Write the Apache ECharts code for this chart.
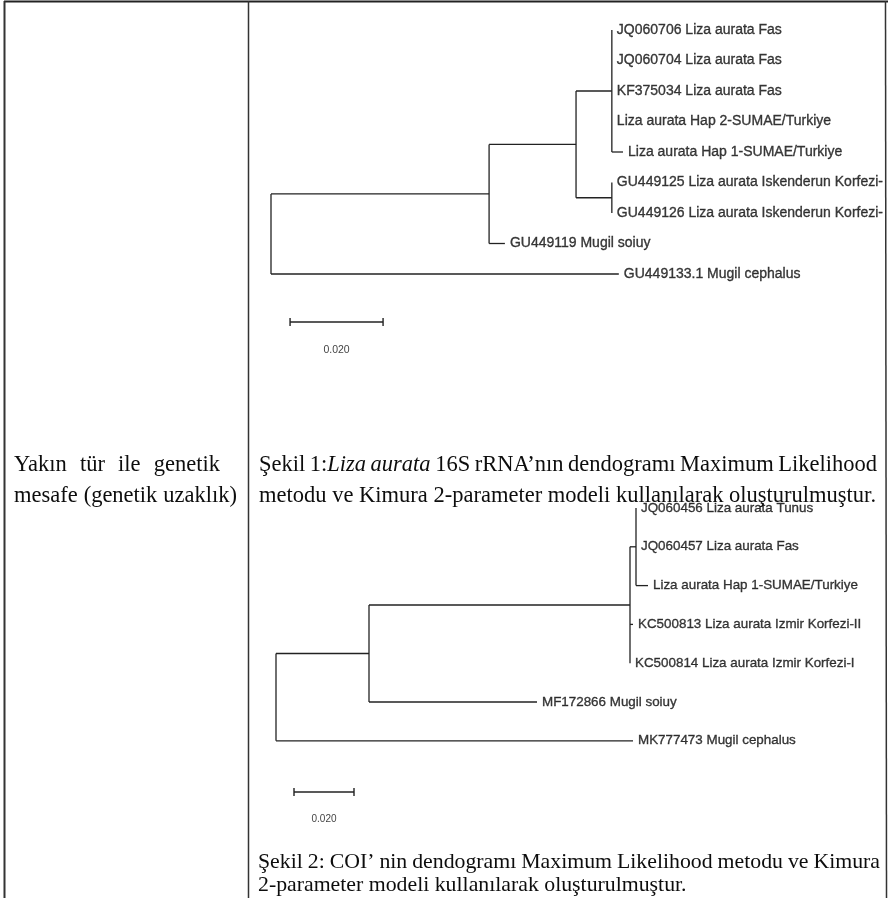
<!DOCTYPE html>
<html><head><meta charset="utf-8">
<script src="https://cdn.jsdelivr.net/npm/echarts@6/dist/echarts.min.js"></script>
<style>html,body{margin:0;padding:0;background:#fff}#c{width:892px;height:898px}</style>
</head><body><div id="c"></div>
<script>
// ---------- Tree 1: 16S rRNA (depth-first order; leaves top to bottom) ----------
const t1Labels = ["", "", "", "",
  "JQ060706 Liza aurata Fas", "JQ060704 Liza aurata Fas", "KF375034 Liza aurata Fas",
  "Liza aurata Hap 2-SUMAE/Turkiye", "Liza aurata Hap 1-SUMAE/Turkiye",
  "", "GU449125 Liza aurata Iskenderun Korfezi-", "GU449126 Liza aurata Iskenderun Korfezi-",
  "GU449119 Mugil soiuy", "GU449133.1 Mugil cephalus"];
const t1Parents = [-1, 0, 1, 2, 3, 3, 3, 3, 3, 2, 9, 9, 1, 0];
const t1Lengths = [0, 0.0469, 0.0187, 0.0077, 0, 0, 0, 0, 0.0024, 0.0077, 0, 0, 0.0034, 0.0748];

// ---------- Tree 2: COI ----------
const t2Labels = ["", "", "", "",
  "JQ060456 Liza aurata Tunus", "JQ060457 Liza aurata Fas", "Liza aurata Hap 1-SUMAE/Turkiye",
  "KC500813 Liza aurata Izmir Korfezi-II", "KC500814 Liza aurata Izmir Korfezi-I",
  "MF172866 Mugil soiuy", "MK777473 Mugil cephalus"];
const t2Parents = [-1, 0, 1, 2, 3, 3, 3, 2, 2, 1, 0];
const t2Lengths = [0, 0.031, 0.087, 0.002, 0, 0, 0.004, 0.001, 0, 0.056, 0.119];

// ---------- Scale bars ----------
const scaleValue = 0.020;
const scaleLabel = "0.020";

// ---------- Texts ([text, italic] segments per word) ----------
const leftLine1 = "Yakın tür ile genetik";
const leftLine2 = "mesafe (genetik uzaklık)";
const cap1Line1 = [[["Şekil", false]], [["1:", false], ["Liza", true]], [["aurata", true]],
  [["16S", false]], [["rRNA’nın", false]], [["dendogramı", false]], [["Maximum", false]], [["Likelihood", false]]];
const cap1Line2 = "metodu ve Kimura 2-parameter modeli kullanılarak oluşturulmuştur.";
const cap2Line1 = "Şekil 2: COI’ nin dendogramı Maximum Likelihood metodu ve Kimura";
const cap2Line2 = "2-parameter modeli kullanılarak oluşturulmuştur.";

function layoutTree(parents, lengths, labels) {
  const n = parents.length;
  const children = Array.from({length: n}, () => []);
  parents.forEach((p, i) => { if (p >= 0) children[p].push(i); });
  const x = new Array(n), y = new Array(n);
  let leaf = 0;
  (function visit(i, px) {
    x[i] = px + lengths[i];
    const c = children[i];
    if (!c.length) { y[i] = leaf++; }
    else { c.forEach(k => visit(k, x[i])); y[i] = (y[c[0]] + y[c[c.length - 1]]) / 2; }
  })(0, 0);
  const segs = [], leaves = [];
  for (let i = 0; i < n; i++) {
    const c = children[i];
    if (parents[i] >= 0) segs.push([x[parents[i]], y[i], x[i], y[i]]);
    if (c.length) segs.push([x[i], y[c[0]], x[i], y[c[c.length - 1]]]);
    else leaves.push({value: [x[i], y[i]], name: labels[i]});
  }
  return {segs, leaves};
}
const T1 = layoutTree(t1Parents, t1Lengths, t1Labels);
const T2 = layoutTree(t2Parents, t2Lengths, t2Labels);

const LINE = '#222', TXT = '#0d0d0d';
function segRender(params, api) {
  const p1 = api.coord([api.value(0), api.value(1)]);
  const p2 = api.coord([api.value(2), api.value(3)]);
  return {type: 'line', shape: {x1: p1[0], y1: p1[1], x2: p2[0], y2: p2[1]},
          style: {stroke: LINE, lineWidth: 1.3}};
}
function barRender(params, api) {
  const a = api.coord([api.value(0), api.value(2)]);
  const b = api.coord([api.value(1), api.value(2)]);
  const s = {stroke: LINE, lineWidth: 1.4};
  return {type: 'group', children: [
    {type: 'line', shape: {x1: a[0], y1: a[1], x2: b[0], y2: b[1]}, style: s},
    {type: 'line', shape: {x1: a[0], y1: a[1] - 4, x2: a[0], y2: a[1] + 4}, style: s},
    {type: 'line', shape: {x1: b[0], y1: b[1] - 4, x2: b[0], y2: b[1] + 4}, style: s}
  ]};
}
const leafLabel = (size) => ({show: true, position: 'right', distance: 5, formatter: '{b}',
  fontFamily: 'Liberation Sans, Arial, sans-serif', fontSize: size, color: TXT,
  textBorderColor: TXT, textBorderWidth: 0.35});

// ---- serif text layout helpers (justification) ----
const fontOf = (it, fs) => (it ? 'italic ' : '') + fs + 'px "Liberation Serif", "Times New Roman", serif';
const mctx = document.createElement('canvas').getContext('2d');
function measure(font, t) { mctx.font = font; return mctx.measureText(t).width; }
function toTokens(str) { return str.split(' ').map(w => [[w, false]]); }
function lineElems(tokens, x0, y, x1, fs) {
  const widths = tokens.map(w => w.reduce((s, seg) => s + measure(fontOf(seg[1], fs), seg[0]), 0));
  const total = widths.reduce((a, b) => a + b, 0);
  const gap = (x1 != null && tokens.length > 1) ? (x1 - x0 - total) / (tokens.length - 1) : measure(fontOf(false, fs), ' ');
  const els = [];
  let x = x0;
  tokens.forEach((w, i) => {
    let xx = x;
    w.forEach(seg => {
      els.push({type: 'text', x: xx, y: y, silent: true,
        style: {text: seg[0], font: fontOf(seg[1], fs), fill: TXT, textVerticalAlign: 'middle', verticalAlign: 'middle'}});
      xx += measure(fontOf(seg[1], fs), seg[0]);
    });
    x += widths[i] + gap;
  });
  return els;
}

const chart = echarts.init(document.getElementById('c'), null, {renderer: 'canvas'});
const graphics = [
  {type: 'line', shape: {x1: 4, y1: 1.5, x2: 888, y2: 1.5}, style: {stroke: '#222', lineWidth: 2}, silent: true},
  {type: 'line', shape: {x1: 4.5, y1: 1, x2: 4.5, y2: 898}, style: {stroke: '#333', lineWidth: 2}, silent: true},
  {type: 'line', shape: {x1: 248.5, y1: 1, x2: 248.5, y2: 898}, style: {stroke: '#333', lineWidth: 1.5}, silent: true},
  {type: 'line', shape: {x1: 885.5, y1: 1, x2: 886.5, y2: 898}, style: {stroke: '#333', lineWidth: 1.5}, silent: true}
].concat(
  lineElems(toTokens(leftLine1), 14, 465, 220, 22.5),
  lineElems(toTokens(leftLine2), 14, 496, 237, 22.5),
  lineElems(cap1Line1, 259, 465, 877, 22.5),
  lineElems(toTokens(cap1Line2), 259, 496, 876, 22.5),
  lineElems(toTokens(cap2Line1), 258, 862, 880, 21.8),
  lineElems(toTokens(cap2Line2), 258, 885, null, 21.8)
);

const option = {
  backgroundColor: '#fff',
  animation: false,
  grid: [
    {left: 271, top: 30, width: 0.12 * 4650, height: 11 * 30.5, outerBoundsMode: 'none'},
    {left: 276, top: 508, width: 0.18 * 3000, height: 10 * 38.8, outerBoundsMode: 'none'}
  ],
  xAxis: [
    {gridIndex: 0, type: 'value', min: 0, max: 0.12, show: false},
    {gridIndex: 1, type: 'value', min: 0, max: 0.18, show: false}
  ],
  yAxis: [
    {gridIndex: 0, type: 'value', min: 0, max: 11, inverse: true, show: false},
    {gridIndex: 1, type: 'value', min: 0, max: 10, inverse: true, show: false}
  ],
  series: [
    {type: 'custom', xAxisIndex: 0, yAxisIndex: 0, renderItem: segRender, data: T1.segs, clip: false, silent: true},
    {type: 'scatter', xAxisIndex: 0, yAxisIndex: 0, symbolSize: 0, data: T1.leaves, label: leafLabel(14), silent: true},
    {type: 'custom', xAxisIndex: 0, yAxisIndex: 0, renderItem: barRender, data: [[0.0041, 0.0041 + scaleValue, 9.574]], clip: false, silent: true},
    {type: 'scatter', xAxisIndex: 0, yAxisIndex: 0, symbolSize: 0, data: [{value: [0.0041 + scaleValue / 2, 10.49], name: scaleLabel}],
      label: {show: true, position: 'inside', formatter: '{b}', fontFamily: 'Liberation Sans, Arial', fontSize: 10.5, color: TXT}, silent: true},

    {type: 'custom', xAxisIndex: 1, yAxisIndex: 1, renderItem: segRender, data: T2.segs, clip: false, silent: true},
    {type: 'scatter', xAxisIndex: 1, yAxisIndex: 1, symbolSize: 0, data: T2.leaves, label: leafLabel(13.4), silent: true},
    {type: 'custom', xAxisIndex: 1, yAxisIndex: 1, renderItem: barRender, data: [[0.006, 0.006 + scaleValue, 7.32]], clip: false, silent: true},
    {type: 'scatter', xAxisIndex: 1, yAxisIndex: 1, symbolSize: 0, data: [{value: [0.006 + scaleValue / 2, 8.02], name: scaleLabel}],
      label: {show: true, position: 'inside', formatter: '{b}', fontFamily: 'Liberation Sans, Arial', fontSize: 10, color: TXT}, silent: true}
  ],
  graphic: graphics
};
chart.setOption(option);
</script></body></html>
